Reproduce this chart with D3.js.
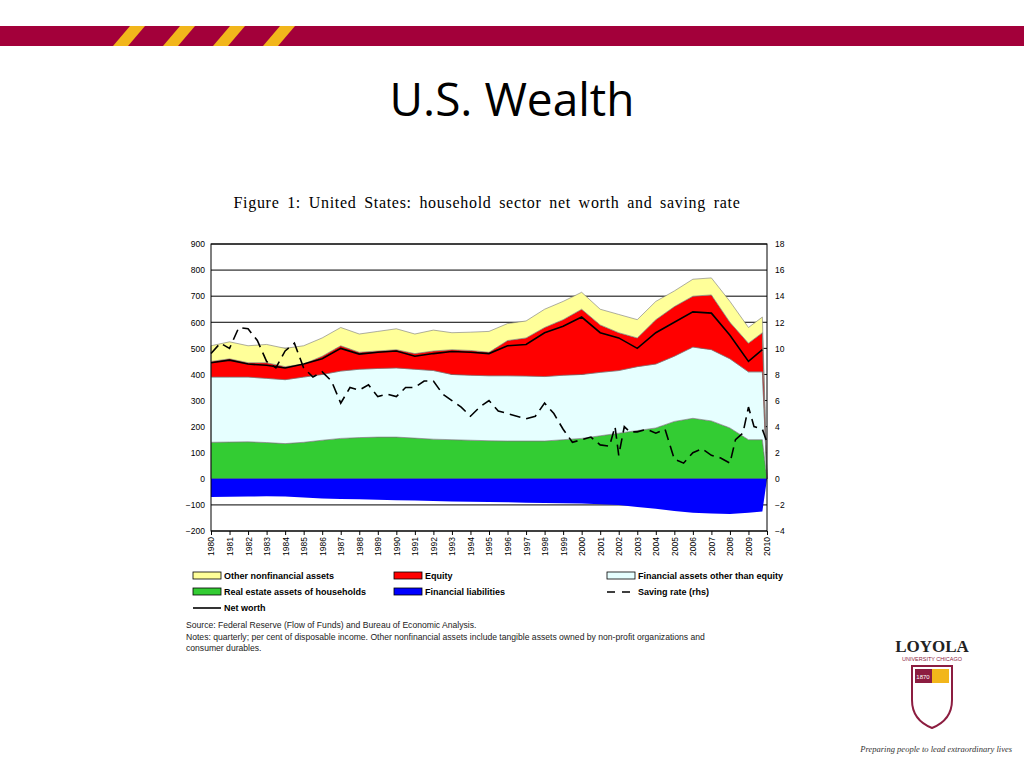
<!DOCTYPE html>
<html>
<head>
<meta charset="utf-8">
<script src="https://cdnjs.cloudflare.com/ajax/libs/d3/7.8.5/d3.min.js"></script>
<style>
  body { margin: 0; background: #fff; }
  svg { display: block; }
</style>
</head>
<body>
<svg id="chart" width="1024" height="768"></svg>
<script>
// data (per cent of disposable income)
const years = [1980,1981,1982,1983,1984,1985,1986,1987,1988,1989,1990,1991,1992,1993,1994,1995,1996,1997,1998,1999,2000,2001,2002,2003,2004,2005,2006,2007,2008,2009,2009.75,2010];
const realEstate = [140,141,142,139,135,140,148,155,158,160,160,156,152,150,148,146,145,145,145,150,155,165,175,185,195,220,232,222,195,150,150,0];
const finOther   = [250,249,248,246,245,250,252,258,262,263,265,264,263,250,249,249,250,249,247,247,245,243,240,245,245,250,273,273,265,260,260,0];
const equity     = [60,70,55,60,50,50,70,97,65,67,70,60,75,95,95,90,135,146,188,213,250,182,145,110,170,190,195,210,140,110,150,0];
const otherNonfin= [60,65,65,70,70,70,70,70,70,75,80,75,80,65,70,80,65,65,70,70,65,60,70,70,70,60,65,65,80,60,60,0];
const liabilities= [-70,-69,-68,-67,-68,-72,-75,-77,-78,-80,-82,-83,-85,-87,-88,-89,-90,-92,-93,-94,-95,-97,-100,-108,-115,-123,-130,-133,-135,-130,-125,0];
const netYears = years.slice(0, 31);
const netWorth = [445,455,440,435,425,440,460,500,478,485,490,470,480,488,485,480,510,515,560,585,620,560,540,500,560,600,640,635,550,450,495];
const savingYears = [1980,1980.5,1981,1981.5,1982,1982.5,1983,1983.5,1984,1984.5,1985,1985.5,1986,1986.5,1987,1987.5,1988,1988.5,1989,1989.5,1990,1990.5,1991,1991.5,1992,1992.5,1993,1993.5,1994,1994.5,1995,1995.5,1996,1996.5,1997,1997.5,1998,1998.5,1999,1999.5,2000,2000.5,2001,2001.5,2001.8,2002,2002.3,2002.6,2003,2003.5,2004,2004.5,2005,2005.5,2006,2006.5,2007,2007.5,2008,2008.3,2008.7,2009,2009.3,2009.75,2010];
const savingRate = [9.6,10.4,10,11.6,11.5,10.6,9,8.5,9.8,10.4,8.5,7.8,8.2,7.5,5.8,7,6.8,7.2,6.3,6.5,6.3,7,7,7.5,7.5,6.5,6,5.5,4.8,5.5,6,5.2,5,4.8,4.6,4.8,5.8,5,3.8,2.8,3,3.2,2.6,2.5,4,1.8,4,3.6,3.6,3.8,3.5,3.8,1.5,1.2,2,2.3,1.8,1.6,1.2,3,3.5,5.5,4,3.8,2.8];
const leftTicks = d3.range(-200, 901, 100);
const rightTicks = d3.range(-4, 19, 2);
const tickYears = d3.range(1980, 2011);

const svg = d3.select("#chart");

// header bar
svg.append("rect").attr("x", 0).attr("y", 26).attr("width", 1024).attr("height", 20).attr("fill", "#a3003a");
[100, 150, 200, 250].forEach(x => {
  svg.append("polygon")
    .attr("points", `${x+13},46 ${x+30},26 ${x+45},26 ${x+28},46`)
    .attr("fill", "#f2b61b");
});
svg.append("text").attr("x", 512).attr("y", 116).attr("text-anchor", "middle")
  .attr("font-family", "Open Sans, sans-serif").attr("font-size", 46).attr("fill", "#000").text("U.S. Wealth");

svg.append("text").attr("x", 487).attr("y", 208).attr("text-anchor", "middle")
  .attr("font-family", "Liberation Serif, serif").attr("font-size", 16).attr("letter-spacing", 0.7).attr("word-spacing", 3)
  .text("Figure 1:  United States:  household sector net worth and saving rate");

const L = 211, R = 767, T = 244, B = 531;
const x = d3.scaleLinear().domain([1980, 2010]).range([L, R]);
const y = d3.scaleLinear().domain([-200, 900]).range([B, T]);
const y2 = d3.scaleLinear().domain([-4, 18]).range([B, T]);

// gridlines
svg.append("g").selectAll("line").data(leftTicks).join("line")
  .attr("x1", L).attr("x2", R).attr("y1", d => y(d)).attr("y2", d => y(d))
  .attr("stroke", "#000").attr("stroke-width", 1);

// stacked areas
const rows = years.map((yr, i) => ({ yr, re: realEstate[i], fo: finOther[i], eq: equity[i], on: otherNonfin[i] }));
const stack = d3.stack().keys(["re", "fo", "eq", "on"])(rows);
const fills = { re: "#33cc33", fo: "#e6ffff", eq: "#ff0000", on: "#ffff99" };
const area = d3.area().x(d => x(d.data.yr)).y0(d => y(d[0])).y1(d => y(d[1]));
svg.append("g").selectAll("path").data(stack).join("path")
  .attr("d", area).attr("fill", d => fills[d.key]).attr("stroke", "#777").attr("stroke-width", 0.6);

svg.append("path")
  .attr("d", d3.area().x((d, i) => x(years[i])).y0(y(0)).y1(d => y(d))(liabilities))
  .attr("fill", "#0000ff");

svg.append("path")
  .attr("d", d3.line().x((d, i) => x(netYears[i])).y(d => y(d))(netWorth))
  .attr("fill", "none").attr("stroke", "#000").attr("stroke-width", 1.6);

svg.append("path")
  .attr("d", d3.line().x((d, i) => x(savingYears[i])).y(d => y2(d))(savingRate))
  .attr("fill", "none").attr("stroke", "#000").attr("stroke-width", 1.6).attr("stroke-dasharray", "11,6");

svg.append("rect").attr("x", L).attr("y", T).attr("width", R - L).attr("height", B - T)
  .attr("fill", "none").attr("stroke", "#000");

// axes
const font = "Liberation Sans, Arial, sans-serif";
const ga = svg.append("g").attr("transform", `translate(${L},0)`)
  .call(d3.axisLeft(y).tickValues(leftTicks).tickSize(0).tickPadding(6));
const gb = svg.append("g").attr("transform", `translate(${R},0)`)
  .call(d3.axisRight(y2).tickValues(rightTicks).tickSize(0).tickPadding(8));
const gx = svg.append("g").attr("transform", `translate(0,${B})`)
  .call(d3.axisBottom(x).tickValues(tickYears).tickFormat(d3.format("d")).tickSize(4));
gx.selectAll("text").attr("transform", "rotate(-90)").attr("text-anchor", "end")
  .attr("x", -6).attr("y", 0).attr("dy", "0.35em");
[ga, gb, gx].forEach(g => {
  g.select(".domain").remove();
  g.selectAll("text").attr("font-family", font).attr("font-size", 8.5).attr("fill", "#000");
});
gx.selectAll("line").attr("stroke", "#000");

// legend
const leg = svg.append("g").attr("font-family", font).attr("font-size", 9).attr("font-weight", "bold");
const items = [
  { t: "Other nonfinancial assets", c: fills.on, x: 193, y: 576 },
  { t: "Equity", c: fills.eq, x: 394, y: 576 },
  { t: "Financial assets other than equity", c: fills.fo, x: 607, y: 576 },
  { t: "Real estate assets of households", c: fills.re, x: 193, y: 592 },
  { t: "Financial liabilities", c: "#0000ff", x: 394, y: 592 }
];
items.forEach(d => {
  leg.append("rect").attr("x", d.x).attr("y", d.y - 4).attr("width", 28).attr("height", 7)
    .attr("fill", d.c).attr("stroke", "#000").attr("stroke-width", 0.8);
  leg.append("text").attr("x", d.x + 31).attr("y", d.y + 3).text(d.t);
});
leg.append("line").attr("x1", 607).attr("x2", 635).attr("y1", 592).attr("y2", 592)
  .attr("stroke", "#000").attr("stroke-width", 1.6).attr("stroke-dasharray", "8,7");
leg.append("text").attr("x", 638).attr("y", 595).text("Saving rate (rhs)");
leg.append("line").attr("x1", 193).attr("x2", 221).attr("y1", 608).attr("y2", 608)
  .attr("stroke", "#000").attr("stroke-width", 1.6);
leg.append("text").attr("x", 224).attr("y", 611).text("Net worth");

const notes = svg.append("g").attr("font-family", font).attr("font-size", 8.6).attr("fill", "#222");
["Source: Federal Reserve (Flow of Funds) and Bureau of Economic Analysis.",
 "Notes: quarterly; per cent of disposable income. Other nonfinancial assets include tangible assets owned by non-profit organizations and",
 "consumer durables."].forEach((t, i) => {
  notes.append("text").attr("x", 186).attr("y", 628 + i * 11.5).text(t);
});

// logo
const logo = svg.append("g").attr("fill", "#8c1d40");
logo.append("text").attr("x", 932).attr("y", 652).attr("text-anchor", "middle")
  .attr("font-family", "Liberation Serif, serif").attr("font-size", 17).attr("font-weight", "bold").attr("fill", "#222").text("LOYOLA");
logo.append("text").attr("x", 932).attr("y", 661).attr("text-anchor", "middle")
  .attr("font-family", font).attr("font-size", 5.5).attr("fill", "#8c1d40").text("UNIVERSITY CHICAGO");
logo.append("path").attr("d", "M912,666 L952,666 L952,700 Q952,720 932,728 Q912,720 912,700 Z")
  .attr("fill", "#fff").attr("stroke", "#8c1d40").attr("stroke-width", 2);
logo.append("rect").attr("x", 915).attr("y", 669).attr("width", 17).attr("height", 14);
logo.append("rect").attr("x", 932).attr("y", 669).attr("width", 17).attr("height", 14).attr("fill", "#f2b61b");
logo.append("text").attr("x", 923).attr("y", 679).attr("text-anchor", "middle").attr("font-size", 6).attr("fill", "#fff").attr("font-family", font).text("1870");
logo.append("text").attr("x", 1012).attr("y", 752).attr("text-anchor", "end")
  .attr("font-family", "Liberation Serif, serif").attr("font-style", "italic").attr("font-size", 8.5).attr("fill", "#333")
  .text("Preparing people to lead extraordinary lives");
</script>
</body>
</html>
